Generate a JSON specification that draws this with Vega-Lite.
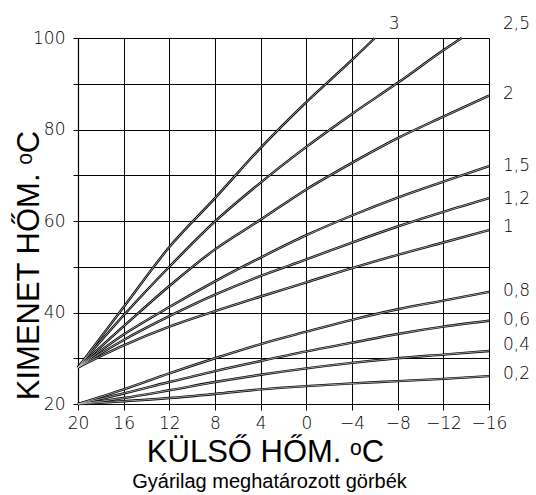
{
  "$schema": "https://vega.github.io/schema/vega-lite/v6.json",
  "width": 411,
  "height": 366,
  "autosize": {"type": "none"},
  "padding": {"left": 78, "top": 38, "right": 47, "bottom": 91},
  "background": "white",
  "config": {"view": {"stroke": null}},
  "title": {"text": "Gyárilag meghatározott görbék", "orient": "bottom", "fontSize": 20, "fontWeight": "normal", "font": "Liberation Sans", "color": "black", "dx": -14, "offset": 5},
  "datasets": {
    "curves": [
      {"k": "3", "x": 20, "y": 28}, {"k": "3", "x": 16, "y": 41.2}, {"k": "3", "x": 12, "y": 54.3}, {"k": "3", "x": 8, "y": 65}, {"k": "3", "x": 4, "y": 76}, {"k": "3", "x": 0, "y": 86}, {"k": "3", "x": -4, "y": 95.2}, {"k": "3", "x": -6, "y": 100},
      {"k": "2,5", "x": 20, "y": 28}, {"k": "2,5", "x": 16, "y": 39.4}, {"k": "2,5", "x": 12, "y": 50}, {"k": "2,5", "x": 8, "y": 59.9}, {"k": "2,5", "x": 4, "y": 68.4}, {"k": "2,5", "x": 0, "y": 76.2}, {"k": "2,5", "x": -4, "y": 83.4}, {"k": "2,5", "x": -8, "y": 90.2}, {"k": "2,5", "x": -12, "y": 97.3}, {"k": "2,5", "x": -13.6, "y": 100},
      {"k": "2", "x": 20, "y": 28}, {"k": "2", "x": 16, "y": 37}, {"k": "2", "x": 12, "y": 45.8}, {"k": "2", "x": 8, "y": 53.8}, {"k": "2", "x": 4, "y": 60.3}, {"k": "2", "x": 0, "y": 66.9}, {"k": "2", "x": -4, "y": 72.7}, {"k": "2", "x": -8, "y": 78.1}, {"k": "2", "x": -12, "y": 82.8}, {"k": "2", "x": -16, "y": 87.4},
      {"k": "1,5", "x": 20, "y": 28}, {"k": "1,5", "x": 16, "y": 35.2}, {"k": "1,5", "x": 12, "y": 41.2}, {"k": "1,5", "x": 8, "y": 46.8}, {"k": "1,5", "x": 4, "y": 52}, {"k": "1,5", "x": 0, "y": 56.9}, {"k": "1,5", "x": -4, "y": 61.2}, {"k": "1,5", "x": -8, "y": 65.1}, {"k": "1,5", "x": -12, "y": 68.6}, {"k": "1,5", "x": -16, "y": 72},
      {"k": "1,2", "x": 20, "y": 28}, {"k": "1,2", "x": 16, "y": 34}, {"k": "1,2", "x": 12, "y": 39.2}, {"k": "1,2", "x": 8, "y": 43.9}, {"k": "1,2", "x": 4, "y": 48}, {"k": "1,2", "x": 0, "y": 51.6}, {"k": "1,2", "x": -4, "y": 55.3}, {"k": "1,2", "x": -8, "y": 58.8}, {"k": "1,2", "x": -12, "y": 62}, {"k": "1,2", "x": -16, "y": 65},
      {"k": "1", "x": 20, "y": 28}, {"k": "1", "x": 16, "y": 32.8}, {"k": "1", "x": 12, "y": 36.9}, {"k": "1", "x": 8, "y": 40.3}, {"k": "1", "x": 4, "y": 43.5}, {"k": "1", "x": 0, "y": 46.6}, {"k": "1", "x": -4, "y": 49.7}, {"k": "1", "x": -8, "y": 52.6}, {"k": "1", "x": -12, "y": 55.3}, {"k": "1", "x": -16, "y": 58},
      {"k": "0,8", "x": 20, "y": 20}, {"k": "0,8", "x": 16, "y": 23.2}, {"k": "0,8", "x": 12, "y": 26.7}, {"k": "0,8", "x": 8, "y": 30}, {"k": "0,8", "x": 4, "y": 33.1}, {"k": "0,8", "x": 0, "y": 35.8}, {"k": "0,8", "x": -4, "y": 38.4}, {"k": "0,8", "x": -8, "y": 40.7}, {"k": "0,8", "x": -12, "y": 42.6}, {"k": "0,8", "x": -16, "y": 44.5},
      {"k": "0,6", "x": 20, "y": 20}, {"k": "0,6", "x": 16, "y": 22.3}, {"k": "0,6", "x": 12, "y": 24.8}, {"k": "0,6", "x": 8, "y": 27.2}, {"k": "0,6", "x": 4, "y": 29.4}, {"k": "0,6", "x": 0, "y": 31.5}, {"k": "0,6", "x": -4, "y": 33.4}, {"k": "0,6", "x": -8, "y": 35.3}, {"k": "0,6", "x": -12, "y": 36.9}, {"k": "0,6", "x": -16, "y": 38.2},
      {"k": "0,4", "x": 20, "y": 20}, {"k": "0,4", "x": 16, "y": 21.3}, {"k": "0,4", "x": 12, "y": 23}, {"k": "0,4", "x": 8, "y": 24.8}, {"k": "0,4", "x": 4, "y": 26.4}, {"k": "0,4", "x": 0, "y": 27.8}, {"k": "0,4", "x": -4, "y": 29}, {"k": "0,4", "x": -8, "y": 30}, {"k": "0,4", "x": -12, "y": 30.8}, {"k": "0,4", "x": -16, "y": 31.6},
      {"k": "0,2", "x": 20, "y": 20}, {"k": "0,2", "x": 16, "y": 20.6}, {"k": "0,2", "x": 12, "y": 21.3}, {"k": "0,2", "x": 8, "y": 22.2}, {"k": "0,2", "x": 4, "y": 23.2}, {"k": "0,2", "x": 0, "y": 23.9}, {"k": "0,2", "x": -4, "y": 24.5}, {"k": "0,2", "x": -8, "y": 25}, {"k": "0,2", "x": -12, "y": 25.5}, {"k": "0,2", "x": -16, "y": 26.1}
    ],
    "labels": [
      {"t": "3", "x": -6, "y": 103.1},
      {"t": "2,5", "x": -16, "y": 103.1},
      {"t": "2", "x": -16, "y": 87.8},
      {"t": "1,5", "x": -16, "y": 72},
      {"t": "1,2", "x": -16, "y": 64.8},
      {"t": "1", "x": -16, "y": 58.6},
      {"t": "0,8", "x": -16, "y": 44.7},
      {"t": "0,6", "x": -16, "y": 38.3},
      {"t": "0,4", "x": -16, "y": 32.8},
      {"t": "0,2", "x": -16, "y": 26.6}
    ]
  },
  "layer": [
    {
      "data": {"name": "curves"},
      "mark": {"type": "line", "interpolate": "monotone", "color": "black", "strokeWidth": 2.4},
      "encoding": {
        "x": {"field": "x", "type": "quantitative",
          "scale": {"domain": [-16, 20], "reverse": true, "nice": false, "zero": false},
          "axis": {"values": [20, 16, 12, 8, 4, 0, -4, -8, -12, -16], "grid": true, "gridColor": "black", "gridOpacity": 1, "gridWidth": 1,
            "domainColor": "black", "domainWidth": 1.2, "tickColor": "black", "tickSize": 6, "tickWidth": 1,
            "labelFontSize": 17, "labelFont": "DejaVu Sans", "labelFontWeight": 200, "labelColor": "black", "labelPadding": 5, "labelFlush": false,
            "title": "KÜLSŐ HŐM. ᵒC", "titleFont": "Liberation Sans", "titleFontSize": 31, "titleFontWeight": "normal", "titleColor": "black",
            "titleX": 187, "titleY": 57, "titleAlign": "center", "titleBaseline": "alphabetic"}},
        "y": {"field": "y", "type": "quantitative",
          "scale": {"domain": [20, 100], "nice": false, "zero": false},
          "axis": {"values": [20, 30, 40, 50, 60, 70, 80, 90, 100], "labelExpr": "datum.value % 20 == 0 ? datum.label : ''",
            "grid": true, "gridColor": "black", "gridOpacity": 1, "gridWidth": 1,
            "domainColor": "black", "domainWidth": 1.2, "tickColor": "black", "tickSize": 5, "tickWidth": 1,
            "labelFontSize": 17, "labelFont": "DejaVu Sans", "labelFontWeight": 200, "labelColor": "black", "labelPadding": 8, "labelFlush": false,
            "title": "KIMENET HŐM. ᵒC", "titleFont": "Liberation Sans", "titleFontSize": 31, "titleFontWeight": "normal", "titleColor": "black",
            "titleX": -40, "titleY": 227, "titleAngle": -90, "titleAlign": "center", "titleBaseline": "alphabetic"}},
        "detail": {"field": "k"}
      }
    },
    {
      "data": {"name": "curves"},
      "mark": {"type": "line", "interpolate": "monotone", "color": "#c4c4c4", "strokeWidth": 0.8},
      "encoding": {
        "x": {"field": "x", "type": "quantitative"},
        "y": {"field": "y", "type": "quantitative"},
        "detail": {"field": "k"}
      }
    },
    {
      "data": {"name": "labels"},
      "mark": {"type": "text", "align": "left", "baseline": "middle", "dx": 14, "fontSize": 17, "font": "DejaVu Sans", "fontWeight": 200, "color": "black"},
      "encoding": {
        "x": {"field": "x", "type": "quantitative"},
        "y": {"field": "y", "type": "quantitative"},
        "text": {"field": "t"}
      }
    }
  ]
}
